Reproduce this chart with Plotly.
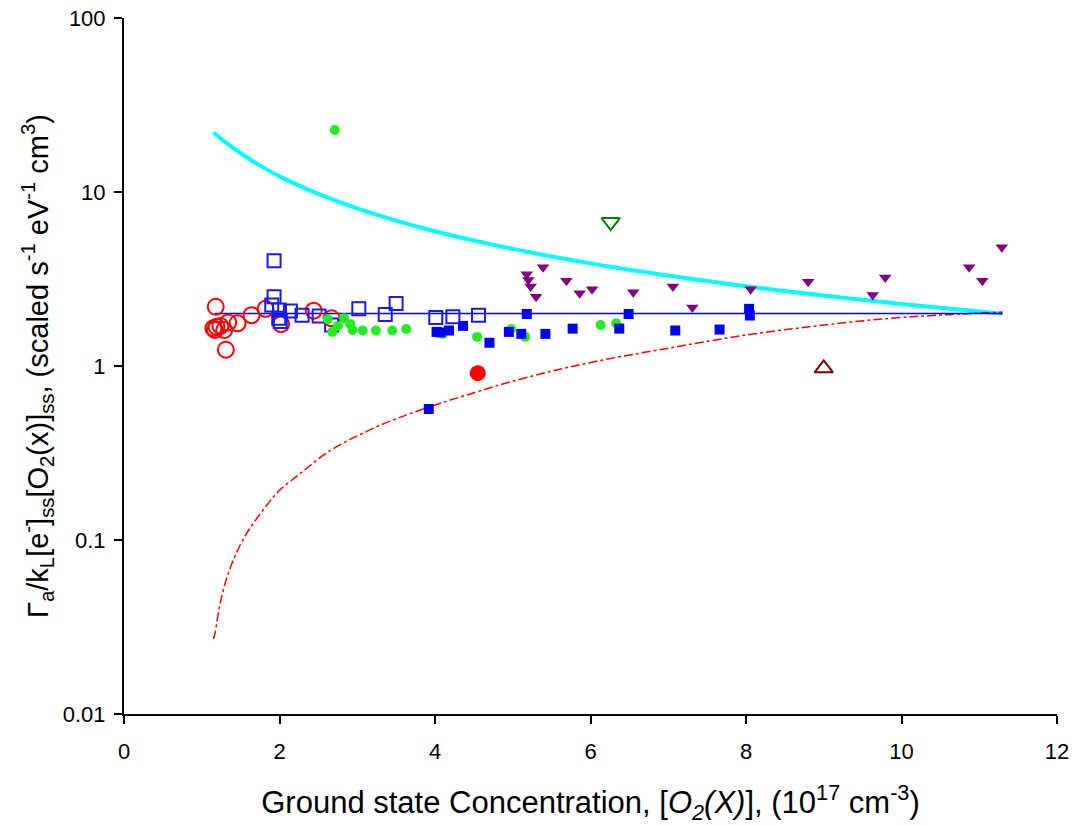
import plotly.graph_objects as go

# ---- curves ----
cyan_x = [1.15, 1.3, 1.5, 1.75, 2.0, 2.5, 3.0, 3.5, 4.0, 4.5, 5.0, 5.5, 6.0, 6.5, 7.0, 7.5, 8.0, 8.5, 9.0, 9.5, 10.0, 10.5, 11.0, 11.3]
cyan_y = [22.0, 19.4, 16.7, 14.2, 12.3, 9.75, 8.05, 6.85, 5.95, 5.26, 4.71, 4.26, 3.89, 3.57, 3.31, 3.08, 2.87, 2.70, 2.54, 2.40, 2.27, 2.16, 2.06, 2.0]

red_x = [1.15, 1.17, 1.24, 1.36, 1.55, 1.82, 2.0, 2.22, 2.43, 2.63, 2.92, 3.06, 3.27, 3.47, 3.68, 4.09, 4.66, 4.84, 5.44, 6.1, 7.02, 7.97, 8.91, 9.85, 10.58, 11.3]
red_y = [0.027, 0.029, 0.044, 0.068, 0.104, 0.155, 0.193, 0.232, 0.276, 0.322, 0.381, 0.408, 0.452, 0.491, 0.532, 0.615, 0.738, 0.781, 0.92, 1.07, 1.27, 1.5, 1.70, 1.88, 1.97, 2.04]

blue_line_x = [1.17, 11.3]
blue_line_y = [2.0, 2.0]

# ---- scatter sets ----
red_open_x = [1.18, 1.15, 1.19, 1.24, 1.17, 1.29, 1.34, 1.46, 1.31, 1.64, 1.82, 2.02, 2.44, 2.67]
red_open_y = [2.19, 1.65, 1.68, 1.70, 1.61, 1.61, 1.78, 1.76, 1.24, 1.96, 2.13, 1.74, 2.08, 1.88]

blue_open_x = [1.93, 1.93, 1.90, 2.00, 1.99, 2.01, 2.14, 2.29, 2.51, 2.67, 3.02, 3.36, 3.50, 4.01, 4.23, 4.56]
blue_open_y = [4.03, 2.50, 2.24, 2.10, 1.88, 1.80, 2.07, 1.96, 1.94, 1.72, 2.13, 1.98, 2.29, 1.90, 1.92, 1.96]

green_x = [2.71, 2.62, 2.68, 2.75, 2.83, 2.91, 2.94, 3.07, 3.24, 3.45, 3.63, 4.10, 4.54, 4.98, 5.16, 6.13, 6.33]
green_y = [22.7, 1.86, 1.57, 1.70, 1.88, 1.74, 1.61, 1.60, 1.60, 1.60, 1.63, 1.53, 1.47, 1.63, 1.47, 1.72, 1.76]

blue_fill_x = [3.92, 4.02, 4.07, 4.18, 4.36, 4.70, 4.95, 5.11, 5.18, 5.42, 5.77, 6.37, 6.49, 7.09, 7.66, 8.04, 8.05]
blue_fill_y = [0.566, 1.57, 1.56, 1.60, 1.70, 1.36, 1.57, 1.53, 1.99, 1.53, 1.64, 1.64, 1.99, 1.60, 1.62, 2.13, 1.95]

purple_x = [5.18, 5.20, 5.23, 5.30, 5.39, 5.69, 5.86, 6.02, 6.55, 7.06, 7.31, 8.06, 8.80, 9.63, 9.79, 10.87, 11.04, 11.29]
purple_y = [3.37, 3.12, 2.86, 2.50, 3.69, 3.09, 2.62, 2.76, 2.65, 2.86, 2.17, 2.76, 3.05, 2.56, 3.23, 3.69, 3.09, 4.81]

green_tri_x = [6.26]
green_tri_y = [6.72]

maroon_tri_x = [9.0]
maroon_tri_y = [0.97]

red_dot_x = [4.55]
red_dot_y = [0.91]

x_ticks = [0, 2, 4, 6, 8, 10, 12]
y_ticks = [0.01, 0.1, 1, 10, 100]
y_tick_text = ["0.01", "0.1", "1", "10", "100"]

FONT = "Arial, Liberation Sans, sans-serif"

fig = go.Figure()

fig.add_trace(go.Scatter(x=cyan_x, y=cyan_y, mode="lines", line=dict(color="#00FFFF", width=4, shape="spline")))
fig.add_trace(go.Scatter(x=red_x, y=red_y, mode="lines", line=dict(color="#FF0000", width=1.5, dash="dashdot", shape="spline")))
fig.add_trace(go.Scatter(x=blue_line_x, y=blue_line_y, mode="lines", line=dict(color="#0000FF", width=1.5)))

fig.add_trace(go.Scatter(x=red_open_x, y=red_open_y, mode="markers",
                         marker=dict(symbol="circle-open", size=16, color="#FF0000", line=dict(width=2))))
fig.add_trace(go.Scatter(x=blue_open_x, y=blue_open_y, mode="markers",
                         marker=dict(symbol="square-open", size=13, color="#1a1aee", line=dict(width=2))))
fig.add_trace(go.Scatter(x=green_x, y=green_y, mode="markers",
                         marker=dict(symbol="circle", size=10, color="#22EE22")))
fig.add_trace(go.Scatter(x=blue_fill_x, y=blue_fill_y, mode="markers",
                         marker=dict(symbol="square", size=10, color="#0000FF")))
fig.add_trace(go.Scatter(x=purple_x, y=purple_y, mode="markers",
                         marker=dict(symbol="triangle-down", size=11, color="#800080")))
fig.add_trace(go.Scatter(x=green_tri_x, y=green_tri_y, mode="markers",
                         marker=dict(symbol="triangle-down-open", size=16, color="#008000", line=dict(width=2))))
fig.add_trace(go.Scatter(x=maroon_tri_x, y=maroon_tri_y, mode="markers",
                         marker=dict(symbol="triangle-up-open", size=16, color="#800000", line=dict(width=2))))
fig.add_trace(go.Scatter(x=red_dot_x, y=red_dot_y, mode="markers",
                         marker=dict(symbol="circle", size=16, color="#FF0000")))

fig.update_layout(
    width=1074, height=825,
    margin=dict(l=124, r=17, t=18, b=111),
    paper_bgcolor="white", plot_bgcolor="white",
    showlegend=False,
    font=dict(family=FONT, size=22, color="black"),
    xaxis=dict(range=[0, 12], tickvals=x_ticks, showgrid=False, zeroline=False,
               showline=True, linecolor="black", linewidth=2, automargin=False,
               ticks="outside", ticklen=8, tickwidth=2, tickcolor="black",
               ticklabelstandoff=9, ticklabeloverflow="allow",
               tickfont=dict(size=22, family=FONT),
               title=dict(text="Ground state Concentration, [<i>O<sub>2</sub>(X)</i>], (10<sup>17</sup> cm<sup>-3</sup>)",
                          font=dict(size=31, family=FONT), standoff=30)),
    yaxis=dict(type="log", range=[-2, 2], tickvals=y_ticks, ticktext=y_tick_text,
               showgrid=False, zeroline=False, automargin=False,
               showline=True, linecolor="black", linewidth=2,
               ticks="outside", ticklen=8, tickwidth=2, tickcolor="black",
               ticklabelstandoff=4, ticklabeloverflow="allow",
               tickfont=dict(size=22, family=FONT),
               title=dict(text="Γ<sub>a</sub>/k<sub>L</sub>[e<sup>-</sup>]<sub>ss</sub>[O<sub>2</sub>(x)]<sub>ss</sub>, (scaled s<sup>-1</sup> eV<sup>-1</sup> cm<sup>3</sup>)",
                          font=dict(size=29, family=FONT), standoff=6)),
)

fig.write_html("out.html", config={"displayModeBar": False},
               post_script="document.body.style.margin='0';")
